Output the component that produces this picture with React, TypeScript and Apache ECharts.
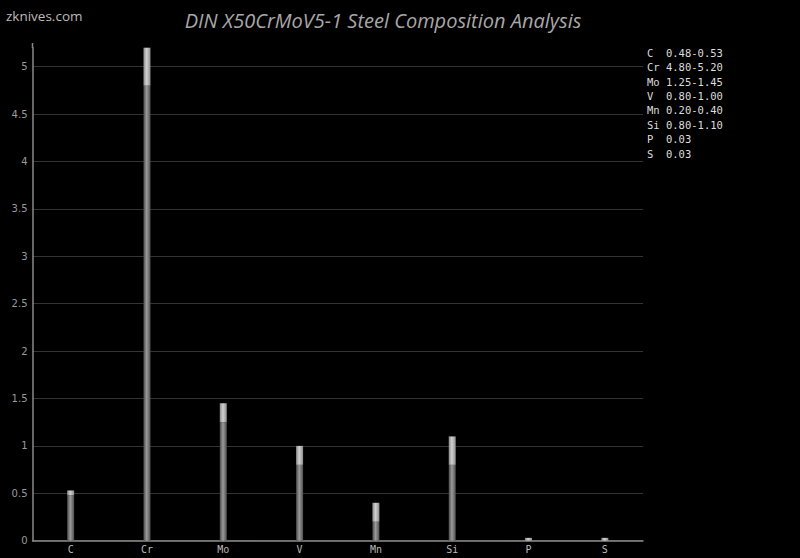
import React, { useEffect, useRef } from "react";
import * as echarts from "echarts";

const categories = ["C", "Cr", "Mo", "V", "Mn", "Si", "P", "S"];
const minValues = [0.48, 4.8, 1.25, 0.8, 0.2, 0.8, 0, 0];
const maxValues = [0.53, 5.2, 1.45, 1.0, 0.4, 1.1, 0.03, 0.03];
const legendLines = [
  "C  0.48-0.53",
  "Cr 4.80-5.20",
  "Mo 1.25-1.45",
  "V  0.80-1.00",
  "Mn 0.20-0.40",
  "Si 0.80-1.10",
  "P  0.03",
  "S  0.03",
];
const titleText = "DIN X50CrMoV5-1 Steel Composition Analysis";
const watermark = "zknives.com";

const rangeValues = maxValues.map((v, i) => +(v - minValues[i]).toFixed(3));

export default function App() {
  const ref = useRef<HTMLDivElement>(null);
  useEffect(() => {
    document.body.style.margin = "0";
    document.body.style.background = "#000";
    const chart = echarts.init(ref.current!, null, { renderer: "svg" });
    const darkGrad = new echarts.graphic.LinearGradient(0, 0, 1, 0, [
      { offset: 0, color: "#4a4a4a" },
      { offset: 0.45, color: "#9a9a9a" },
      { offset: 1, color: "#505050" },
    ]);
    const lightGrad = new echarts.graphic.LinearGradient(0, 0, 1, 0, [
      { offset: 0, color: "#8a8a8a" },
      { offset: 0.45, color: "#d0d0d0" },
      { offset: 1, color: "#8e8e8e" },
    ]);
    chart.setOption({
      animation: false,
      backgroundColor: "#000",
      grid: { left: 32.5, right: 157, top: 47.7, bottom: 17.3, containLabel: false },
      xAxis: {
        type: "category",
        data: categories,
        axisLine: { lineStyle: { color: "#8a8a8a", width: 1.5 } },
        axisTick: { show: false },
        axisLabel: {
          color: "#bbbbbb",
          fontFamily: "DejaVu Sans Mono",
          fontSize: 10,
          margin: 4,
        },
      },
      yAxis: {
        type: "value",
        min: 0,
        max: 5.2,
        interval: 0.5,
        axisLine: { show: true, lineStyle: { color: "#8a8a8a", width: 1.5 } },
        axisTick: { show: false },
        axisLabel: {
          color: "#9a9a9a",
          fontFamily: "DejaVu Sans",
          fontSize: 10,
          margin: 5,
          showMaxLabel: false,
        },
        splitLine: { show: true, showMaxLine: false, lineStyle: { color: "#333333", width: 1 } },
      },
      series: [
        {
          name: "min",
          type: "bar",
          stack: "comp",
          barWidth: 7,
          data: minValues,
          itemStyle: { color: darkGrad },
        },
        {
          name: "range",
          type: "bar",
          stack: "comp",
          barWidth: 7,
          data: rangeValues,
          itemStyle: { color: lightGrad },
        },
      ],
      graphic: [
        {
          type: "text",
          left: 6,
          top: 9,
          style: {
            text: watermark,
            fill: "#bbbbbb",
            font: "13.5px 'Open Sans'",
          },
        },
        {
          type: "text",
          x: 383,
          y: 20,
          style: {
            text: titleText,
            fill: "#a8a8a8",
            font: "italic 20px 'Open Sans'",
            textAlign: "center",
            textVerticalAlign: "middle",
          },
        },
        {
          type: "line",
          shape: { x1: 32.5, y1: 43, x2: 32.5, y2: 48 },
          style: { stroke: "#8a8a8a", lineWidth: 1.5 },
        },
        {
          type: "text",
          x: 647,
          y: 45.5,
          style: {
            text: legendLines.join("\n"),
            fill: "#dddddd",
            font: "10.5px 'DejaVu Sans Mono'",
            lineHeight: 14.4,
          },
        },
      ],
    });
    return () => chart.dispose();
  }, []);
  return <div ref={ref} style={{ width: 800, height: 558 }} />;
}
